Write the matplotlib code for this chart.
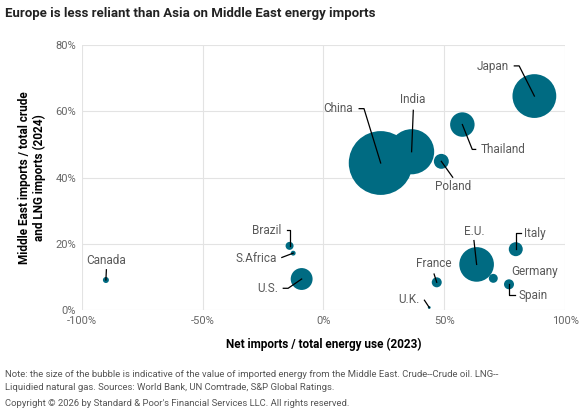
import matplotlib
matplotlib.use("Agg")
import matplotlib.pyplot as plt
from matplotlib.ticker import FuncFormatter

plt.rcParams["font.family"] = ["Roboto", "DejaVu Sans"]

# data (percent)
countries = ["Canada", "Brazil", "S.Africa", "U.S.", "China", "India", "Poland",
             "Thailand", "Japan", "E.U.", "Germany", "Italy", "Spain", "France", "U.K."]
net_imports = [-90, -14, -12.5, -9, 23.7, 36.5, 48.8, 57.5, 87.3, 63.4, 70.3, 79.6, 76.8, 46.9, 43.8]
me_share = [9.1, 19.4, 17.2, 9.4, 44.4, 47.8, 44.9, 56.0, 64.6, 13.8, 9.6, 18.4, 7.8, 8.4, 0.8]
# value of energy imported from the Middle East (relative units)
me_value = [0.9, 1.6, 0.6, 12, 102, 51, 5.6, 15, 48, 30, 2, 4.9, 2.5, 2.5, 0.2]

# label placement: text anchor (x, y), alignment, leader path
label_pos = {
    "Canada":   ((-89.8, 15.1), "center", [(-89.8, 12.2)]),
    "Brazil":   ((-17.3, 24.0), "right", [(-15.2, 24.2), (-14.0, 24.2)]),
    "S.Africa": ((-19.4, 15.5), "right", [(-17.2, 15.9)]),
    "U.S.":     ((-18.7, 6.4), "right", [(-16.6, 6.6), (-14.6, 6.6)]),
    "China":    ((12.3, 60.8), "right", [(14.8, 60.8), (16.8, 60.8)]),
    "India":    ((36.9, 63.6), "center", [(37.2, 60.3)]),
    "Poland":   ((53.8, 37.4), "center", [(53.5, 40.1)]),
    "Thailand": ((65.1, 48.5), "left", [(63.0, 48.5), (61.6, 48.5)]),
    "Japan":    ((76.8, 73.6), "right", [(79.0, 73.7), (81.0, 73.7)]),
    "E.U.":     ((62.3, 23.7), "center", [(62.3, 21.0)]),
    "Germany":  ((77.6, 11.6), "left", []),
    "Italy":    ((83.1, 23.0), "left", [(81.7, 23.2), (79.6, 23.2)]),
    "Spain":    ((80.7, 4.3), "left", [(79.2, 4.5), (76.8, 4.5)]),
    "France":   ((45.5, 14.1), "center", [(45.8, 10.9)]),
    "U.K.":     ((40.0, 3.2), "right", [(41.8, 3.0)]),
}

color = "#006b82"
fig = plt.figure(figsize=(5.88, 4.13), dpi=100)
ax = fig.add_axes([0.139, 0.249, 0.822, 0.642])

sizes = [v * 20.7 for v in me_value]
ax.scatter(net_imports, me_share, s=sizes, color=color, linewidths=0, zorder=3)

for name, x, y in zip(countries, net_imports, me_share):
    (tx, ty), ha, path = label_pos[name]
    ax.text(tx, ty, name, ha=ha, va="center", fontsize=8.5, color="#595959", zorder=5)
    if path:
        pts = path + [(x, y)]
        ax.plot([p[0] for p in pts], [p[1] for p in pts], color="black", lw=0.9, zorder=4)

ax.set_xlim(-100, 100)
ax.set_ylim(0, 80)
ax.set_xticks([-100, -50, 0, 50, 100])
ax.set_yticks([0, 20, 40, 60, 80])
pct = FuncFormatter(lambda v, _: f"{v:.0f}%")
ax.xaxis.set_major_formatter(pct)
ax.yaxis.set_major_formatter(pct)
ax.tick_params(length=0, labelsize=8, labelcolor="#666666", pad=4)
ax.grid(True, color="#e3e3e3", lw=0.8, zorder=0)
for s in ax.spines.values():
    s.set_visible(False)

ax.set_xlabel("Net imports / total energy use (2023)", fontsize=8.5, fontweight="bold", labelpad=9)
ax.set_ylabel("Middle East imports / total crude\nand LNG imports (2024)", fontsize=8.5,
              fontweight="bold", labelpad=7, linespacing=1.15)

fig.text(0.009, 0.967, "Europe is less reliant than Asia on Middle East energy imports",
         fontsize=9.5, fontweight="bold", color="#222222", va="center")
fig.text(0.009, 0.077, "Note: the size of the bubble is indicative of the value of imported energy from the Middle East. Crude--Crude oil. LNG--\n"
         "Liquidied natural gas. Sources: World Bank, UN Comtrade, S&P Global Ratings.",
         fontsize=6.8, color="#555555", va="center", linespacing=1.55)
fig.text(0.009, 0.022, "Copyright \u00a9 2026 by Standard & Poor's Financial Services LLC. All rights reserved.",
         fontsize=6.8, color="#555555", va="center")

fig.savefig("out.png", dpi=100)
